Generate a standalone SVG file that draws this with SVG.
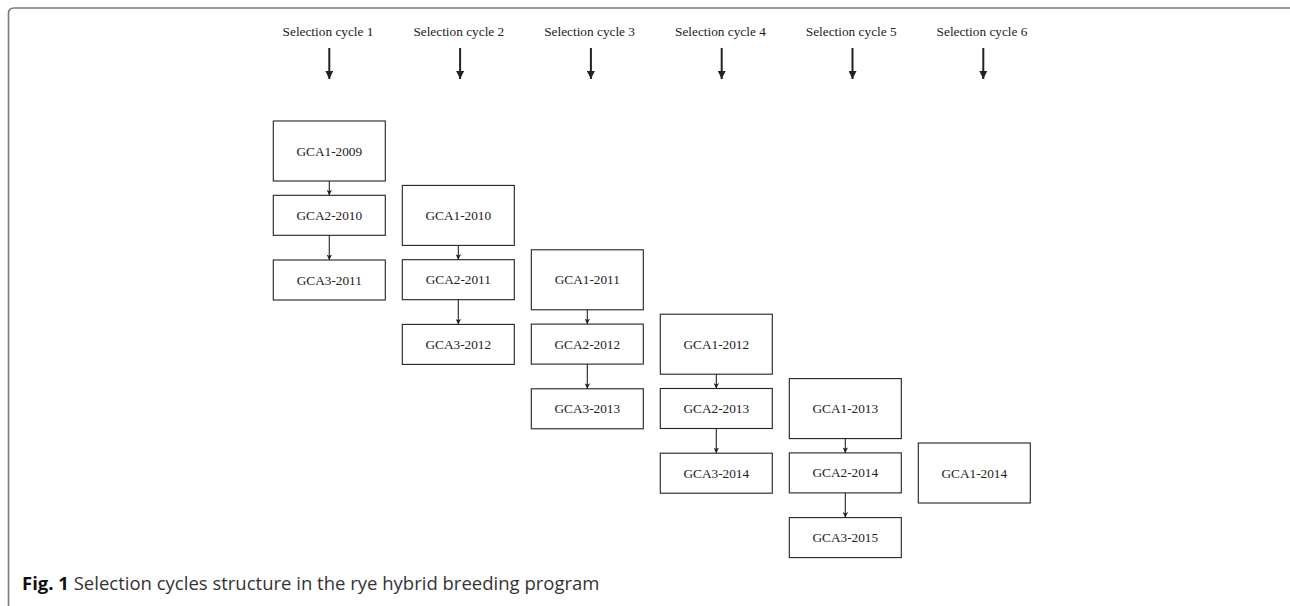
<svg xmlns="http://www.w3.org/2000/svg" width="1290" height="606" viewBox="0 0 1290 606">
<defs>
<style>
.frame{fill:none;stroke:#7a7a7a;stroke-width:1.6}
.box{fill:#fff;stroke:#222;stroke-width:1.1}
.t{font-family:"Liberation Serif","Times New Roman",serif;font-size:13.3px;fill:#222;text-anchor:middle}
.hdr{stroke:#222;stroke-width:2;fill:none}
.ln{stroke:#222;stroke-width:1.1;fill:none}
.cap{font-family:"Open Sans","Noto Sans","Liberation Sans",sans-serif;font-size:18.5px;fill:#333}
.capb{font-weight:bold;fill:#111}
</style>
<marker id="bigHead" viewBox="0 0 8 8" refX="8" refY="4" markerWidth="8" markerHeight="8" markerUnits="userSpaceOnUse" orient="auto">
<path d="M0,0 L8,4 L0,8 z" fill="#222"/>
</marker>
<marker id="smallHead" viewBox="0 0 6 6" refX="6" refY="3" markerWidth="5.5" markerHeight="5.5" markerUnits="userSpaceOnUse" orient="auto">
<path d="M0,0 L6,3 L0,6 L1.5,3 z" fill="#222"/>
</marker>
</defs>
<rect width="1290" height="606" fill="#fff"/>
<path class="frame" d="M8.5,606 V13.5 Q8.5,8 14,8 H1290"/>

<g id="headers">
<g id="cycle1"><text class="t" x="328" y="35.5">Selection cycle 1</text></g>
<g id="cycle2"><text class="t" x="458.8" y="35.5">Selection cycle 2</text></g>
<g id="cycle3"><text class="t" x="589.6" y="35.5">Selection cycle 3</text></g>
<g id="cycle4"><text class="t" x="720.4" y="35.5">Selection cycle 4</text></g>
<g id="cycle5"><text class="t" x="851.2" y="35.5">Selection cycle 5</text></g>
<g id="cycle6"><text class="t" x="982" y="35.5">Selection cycle 6</text></g>
</g>

<g id="nodes">
<g id="n_GCA1-2009"><rect class="box" x="273.3" y="121" width="112" height="60"/><text class="t" x="329.3" y="155.5">GCA1-2009</text></g>
<g id="n_GCA2-2010"><rect class="box" x="273.3" y="195.3" width="112" height="40"/><text class="t" x="329.3" y="219.8">GCA2-2010</text></g>
<g id="n_GCA3-2011"><rect class="box" x="273.3" y="260" width="112" height="40"/><text class="t" x="329.3" y="284.5">GCA3-2011</text></g>

<g id="n_GCA1-2010"><rect class="box" x="402.3" y="185.4" width="112" height="60"/><text class="t" x="458.3" y="219.9">GCA1-2010</text></g>
<g id="n_GCA2-2011"><rect class="box" x="402.3" y="259.7" width="112" height="40"/><text class="t" x="458.3" y="284.2">GCA2-2011</text></g>
<g id="n_GCA3-2012"><rect class="box" x="402.3" y="324.4" width="112" height="40"/><text class="t" x="458.3" y="348.9">GCA3-2012</text></g>

<g id="n_GCA1-2011"><rect class="box" x="531.3" y="249.8" width="112" height="60"/><text class="t" x="587.3" y="284.3">GCA1-2011</text></g>
<g id="n_GCA2-2012"><rect class="box" x="531.3" y="324.1" width="112" height="40"/><text class="t" x="587.3" y="348.6">GCA2-2012</text></g>
<g id="n_GCA3-2013"><rect class="box" x="531.3" y="388.8" width="112" height="40"/><text class="t" x="587.3" y="413.3">GCA3-2013</text></g>

<g id="n_GCA1-2012"><rect class="box" x="660.3" y="314.2" width="112" height="60"/><text class="t" x="716.3" y="348.7">GCA1-2012</text></g>
<g id="n_GCA2-2013"><rect class="box" x="660.3" y="388.5" width="112" height="40"/><text class="t" x="716.3" y="413">GCA2-2013</text></g>
<g id="n_GCA3-2014"><rect class="box" x="660.3" y="453.2" width="112" height="40"/><text class="t" x="716.3" y="477.7">GCA3-2014</text></g>

<g id="n_GCA1-2013"><rect class="box" x="789.3" y="378.6" width="112" height="60"/><text class="t" x="845.3" y="413.1">GCA1-2013</text></g>
<g id="n_GCA2-2014"><rect class="box" x="789.3" y="452.9" width="112" height="40"/><text class="t" x="845.3" y="477.4">GCA2-2014</text></g>
<g id="n_GCA3-2015"><rect class="box" x="789.3" y="517.6" width="112" height="40"/><text class="t" x="845.3" y="542.1">GCA3-2015</text></g>

<g id="n_GCA1-2014"><rect class="box" x="918.3" y="443" width="112" height="60"/><text class="t" x="974.3" y="477.5">GCA1-2014</text></g>
</g>

<g id="connectors">
<line class="hdr" x1="329.3" y1="48" x2="329.3" y2="79" marker-end="url(#bigHead)"/>
<line class="hdr" x1="460.1" y1="48" x2="460.1" y2="79" marker-end="url(#bigHead)"/>
<line class="hdr" x1="590.9" y1="48" x2="590.9" y2="79" marker-end="url(#bigHead)"/>
<line class="hdr" x1="721.7" y1="48" x2="721.7" y2="79" marker-end="url(#bigHead)"/>
<line class="hdr" x1="852.5" y1="48" x2="852.5" y2="79" marker-end="url(#bigHead)"/>
<line class="hdr" x1="983.3" y1="48" x2="983.3" y2="79" marker-end="url(#bigHead)"/>

<line class="ln" x1="329.3" y1="181" x2="329.3" y2="195.3" marker-end="url(#smallHead)"/>
<line class="ln" x1="329.3" y1="235.3" x2="329.3" y2="260" marker-end="url(#smallHead)"/>
<line class="ln" x1="458.3" y1="245.4" x2="458.3" y2="259.7" marker-end="url(#smallHead)"/>
<line class="ln" x1="458.3" y1="299.7" x2="458.3" y2="324.4" marker-end="url(#smallHead)"/>
<line class="ln" x1="587.3" y1="309.8" x2="587.3" y2="324.1" marker-end="url(#smallHead)"/>
<line class="ln" x1="587.3" y1="364.1" x2="587.3" y2="388.8" marker-end="url(#smallHead)"/>
<line class="ln" x1="716.3" y1="374.2" x2="716.3" y2="388.5" marker-end="url(#smallHead)"/>
<line class="ln" x1="716.3" y1="428.5" x2="716.3" y2="453.2" marker-end="url(#smallHead)"/>
<line class="ln" x1="845.3" y1="438.6" x2="845.3" y2="452.9" marker-end="url(#smallHead)"/>
<line class="ln" x1="845.3" y1="492.9" x2="845.3" y2="517.6" marker-end="url(#smallHead)"/>
</g>

<text class="cap" x="22" y="590"><tspan class="capb">Fig. 1</tspan> Selection cycles structure in the rye hybrid breeding program</text>
</svg>
